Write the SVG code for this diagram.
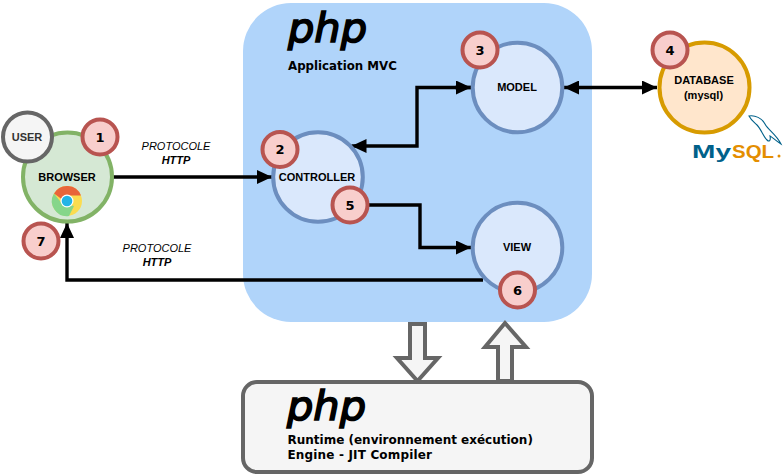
<svg xmlns="http://www.w3.org/2000/svg" width="784" height="474" viewBox="0 0 784 474">
<style>
text{font-family:"Liberation Sans",Arial,sans-serif;fill:#000}
.c{text-anchor:middle}
.lbl{font-size:11px;font-weight:bold}
.num{font-size:13px;font-weight:bold;font-family:"DejaVu Sans",sans-serif;text-anchor:middle}
.dv{font-family:"DejaVu Sans",sans-serif;font-weight:bold;font-size:12px}
.php{font-family:"DejaVu Sans",sans-serif;font-style:italic;font-size:41px}
.ital{font-size:11px;font-style:italic;text-anchor:middle}
.badge{fill:#f8cecc;stroke:#b85450;stroke-width:4}
.mvc{fill:#dae8fc;stroke:#6c8ebf;stroke-width:4}
.line{fill:none;stroke:#000;stroke-width:3.4}
.block{fill:#f5f5f5;stroke:#666;stroke-width:4}
</style>
<defs>
<marker id="end" markerUnits="userSpaceOnUse" markerWidth="16" markerHeight="14" refX="15" refY="7" orient="auto"><path d="M0 0L15 7L0 14Z" fill="#000"/></marker>
<marker id="start" markerUnits="userSpaceOnUse" markerWidth="16" markerHeight="14" refX="0" refY="7" orient="auto"><path d="M15 0L0 7L15 14Z" fill="#000"/></marker>
</defs>
<g id="panel-app"><rect x="243" y="3" width="349" height="319" rx="48" fill="#b0d4fa"/>
<text class="php" x="288" y="42" stroke="#000" stroke-width="1.6" textLength="79" lengthAdjust="spacingAndGlyphs">php</text>
<text class="dv" x="288" y="70" style="font-size:11.800px">Application MVC</text></g>
<g id="panel-runtime"><rect x="243" y="382" width="349" height="90" rx="14" fill="#f5f5f5" stroke="#666" stroke-width="4"/>
<text class="php" x="287" y="420" stroke="#000" stroke-width="1.6" textLength="79" lengthAdjust="spacingAndGlyphs">php</text>
<text class="dv" x="287.500" y="444">Runtime (environnement exécution)</text>
<text class="dv" x="287.500" y="459" textLength="144.500">Engine - JIT Compiler</text></g>
<g id="connectors">
<path class="line" d="M113 177H272" marker-end="url(#end)"/>
<path class="line" d="M483 280H67V223" marker-end="url(#end)"/>
<path class="line" d="M471 87.500H417V146H351.500" marker-end="url(#end)"/>
<path class="line" d="M455 87.500H471" marker-end="url(#end)"/>
<path class="line" d="M369 205H420V247.500H471" marker-end="url(#end)"/>
<path class="line" d="M564 87.500H657" marker-start="url(#start)" marker-end="url(#end)"/>
<path class="block" d="M410 324H425V358H438L417.500 381L397 358H410Z"/>
<path class="block" d="M498 381V347H485L505 323L526 347H512V381Z"/>
</g>
<g id="browser"><circle cx="67.500" cy="177" r="44.500" fill="#d5e8d4" stroke="#82b366" stroke-width="4"/>
<text class="lbl c" x="67" y="181">BROWSER</text>
<g id="chrome-icon">
<circle cx="67" cy="201" r="15" fill="#fbdc4f"/>
<path d="M54 193.500A15 15 0 0 1 81 195.500L67 195.500A6 6 0 0 0 61.500 199Z" fill="#e8653a"/>
<path d="M54 193.500A15 15 0 0 0 69 216L74 206L61.500 203Z" fill="#85d68a"/>
<circle cx="67" cy="201" r="6.500" fill="#fff"/><circle cx="67" cy="201" r="5.300" fill="#22b4e6"/>
</g></g>
<g id="user"><circle cx="27.500" cy="137" r="24.500" fill="#f5f5f5" stroke="#666" stroke-width="4"/><text class="lbl c" x="27" y="141" style="fill:#333;font-size:11px">USER</text></g>
<g id="controller"><circle class="mvc" cx="318" cy="177" r="44.800"/><text class="lbl c" x="317" y="181">CONTROLLER</text></g>
<g id="model"><circle class="mvc" cx="517.500" cy="87.500" r="44.800"/><text class="lbl c" x="517" y="91">MODEL</text></g>
<g id="view"><circle class="mvc" cx="517.500" cy="247.500" r="44.800"/><text class="lbl c" x="517" y="251">VIEW</text></g>
<g id="database"><circle cx="704.500" cy="87.500" r="45" fill="#ffe6cc" stroke="#d79b00" stroke-width="4"/>
<text class="lbl c" x="704" y="84">DATABASE</text><text class="lbl c" x="703.500" y="99">(mysql)</text></g>
<g id="mysql-logo">
<text x="692" y="158" style="font-size:19px;font-weight:bold;fill:#00618a" textLength="39" lengthAdjust="spacingAndGlyphs">My</text>
<text x="732" y="158" style="font-size:19px;font-weight:bold;fill:#e48e00" textLength="42" lengthAdjust="spacingAndGlyphs">SQL</text>
<circle cx="779" cy="156" r="1.500" fill="#e48e00"/>
<path d="M749 116C755 115 762 118 765 124C768 130 776 134 781 144C776 141 772 137 770 136C771 141 769 142 767 140C763 136 761 129 757 125C754 122 751 120 749 116Z" fill="#fff" stroke="#00618a" stroke-width="1.100"/>
</g>
<g id="badge-1"><circle class="badge" cx="100" cy="137" r="17.500"/><text class="num" x="100" y="141.500">1</text></g>
<g id="badge-2"><circle class="badge" cx="280" cy="149.500" r="17.500"/><text class="num" x="280" y="154">2</text></g>
<g id="badge-3"><circle class="badge" cx="480" cy="50" r="17.500"/><text class="num" x="480" y="54.500">3</text></g>
<g id="badge-4"><circle class="badge" cx="670" cy="50" r="17.500"/><text class="num" x="670" y="54.500">4</text></g>
<g id="badge-5"><circle class="badge" cx="350" cy="205" r="17.500"/><text class="num" x="350" y="209.500">5</text></g>
<g id="badge-6"><circle class="badge" cx="517.500" cy="290" r="17.500"/><text class="num" x="517.500" y="294.500">6</text></g>
<g id="badge-7"><circle class="badge" cx="41" cy="241" r="17.500"/><text class="num" x="41" y="245.500">7</text></g>
<g id="labels">
<text class="ital" x="176" y="150">PROTOCOLE</text><text class="ital" x="176" y="164" font-weight="bold">HTTP</text>
<text class="ital" x="157" y="252">PROTOCOLE</text><text class="ital" x="157" y="266" font-weight="bold">HTTP</text>
</g>
</svg>
